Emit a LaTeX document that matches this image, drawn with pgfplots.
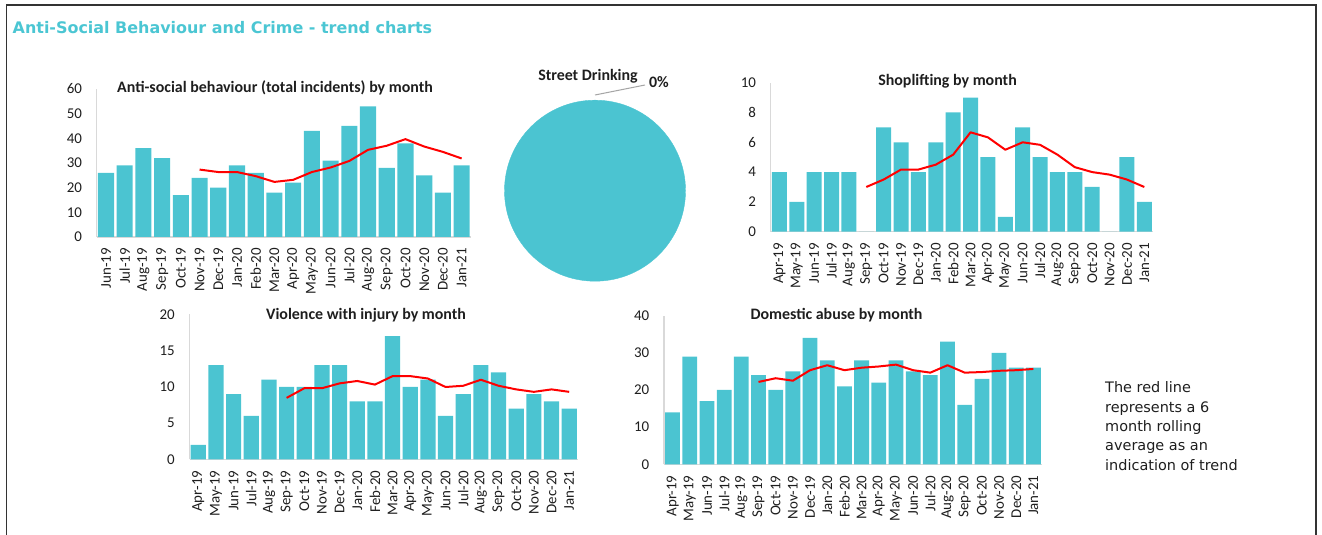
\documentclass[border=0pt]{standalone}
\usepackage{pgfplots}
\pgfplotsset{compat=1.18}
\usepackage{pgfplotstable}
\usepackage{fontspec}
\setmainfont{Carlito}
\newfontfamily\verdana{DejaVu Sans}
\definecolor{barteal}{RGB}{75,196,209}
\definecolor{titleteal}{RGB}{75,198,211}
\definecolor{axgray}{RGB}{217,217,217}
\definecolor{txt}{RGB}{30,30,30}

\pgfplotstableread{
x v avg
0 26 nan
1 29 nan
2 36 nan
3 32 nan
4 17 nan
5 24 27.33
6 20 26.33
7 29 26.33
8 26 24.67
9 18 22.33
10 22 23.17
11 43 26.33
12 31 28.17
13 45 30.83
14 53 35.33
15 28 37.00
16 38 39.67
17 25 36.67
18 18 34.50
19 29 31.83
}\asbdata

\pgfplotstableread{
x v avg
0 4 nan
1 2 nan
2 4 nan
3 4 nan
4 4 nan
5 0 3.00
6 7 3.50
7 6 4.17
8 4 4.17
9 6 4.50
10 8 5.17
11 9 6.67
12 5 6.33
13 1 5.50
14 7 6.00
15 5 5.83
16 4 5.17
17 4 4.33
18 3 4.00
19 0 3.83
20 5 3.50
21 2 3.00
}\shopdata

\pgfplotstableread{
x v avg
0 2 nan
1 13 nan
2 9 nan
3 6 nan
4 11 nan
5 10 8.50
6 10 9.83
7 13 9.83
8 13 10.50
9 8 10.83
10 8 10.33
11 17 11.50
12 10 11.50
13 11 11.17
14 6 10.00
15 9 10.17
16 13 11.00
17 12 10.17
18 7 9.67
19 9 9.33
20 8 9.67
21 7 9.33
}\viodata

\pgfplotstableread{
x v avg
0 14 nan
1 29 nan
2 17 nan
3 20 nan
4 29 nan
5 24 22.17
6 20 23.17
7 25 22.50
8 34 25.33
9 28 26.67
10 21 25.33
11 28 26.00
12 22 26.33
13 28 26.83
14 25 25.33
15 24 24.67
16 33 26.67
17 16 24.67
18 23 24.83
19 30 25.17
20 26 25.33
21 26 25.67
}\domdata

\pgfplotsset{
  trend/.style={
    scale only axis, anchor=south west,
    bar width=0.86,
    enlargelimits=false, ymin=0,
    axis x line*=bottom, axis y line*=left,
    axis line style={draw=axgray, line width=1.3bp},
    major tick length=0pt,
    /pgf/number format/assume math mode=true,
    ticklabel style={font=\fontsize{15}{16}\selectfont, text=txt},
    yticklabel style={anchor=east, inner sep=0pt},
    yticklabel shift=14.5bp,
    xticklabel style={rotate=90, anchor=east, inner sep=0pt},
    xticklabel shift=11bp,
    clip=false,
  },
  bars/.style={ybar, fill=barteal, draw=none},
  trendline/.style={sharp plot, draw=red, line width=2bp, mark=none, line join=round},
}

\begin{document}
\begin{tikzpicture}[x=1bp,y=1bp]
\path[use as bounding box] (0,0) rectangle (1322,535);
\draw[line width=1.6bp, black!80] (6.5,-5) -- (6.5,530) -- (1316,530) -- (1316,-5);
\node[anchor=base west, inner sep=0pt, font=\verdana\bfseries\fontsize{16}{18}\selectfont, text=titleteal] at (12.5,501.7) {Anti-Social Behaviour and Crime - trend charts};

% Chart 1: ASB
\begin{axis}[trend, at={(96.6bp,298bp)}, width=374.4bp, height=148bp,
  xmin=-0.5, xmax=19.5, ymax=60, ytick={0,10,...,60},
  xtick={0,...,19},
  xticklabels={Jun-19,Jul-19,Aug-19,Sep-19,Oct-19,Nov-19,Dec-19,Jan-20,Feb-20,Mar-20,Apr-20,May-20,Jun-20,Jul-20,Aug-20,Sep-20,Oct-20,Nov-20,Dec-20,Jan-21}]
\addplot[bars] table[x=x,y=v] {\asbdata};
\addplot[trendline] table[x=x,y=avg] {\asbdata};
\end{axis}
\node[font=\bfseries\fontsize{16}{18}\selectfont, text=txt] at (275,447) {Anti-social behaviour (total incidents) by month};

% Pie: Street Drinking
\begin{axis}[hide axis, scale only axis, anchor=center, at={(595bp,344.3bp)}, width=182bp, height=182bp,
  xmin=-1, xmax=1, ymin=-1, ymax=1, clip=false]
\addplot[only marks, mark=*, mark size=90.5bp, color=barteal, mark options={fill=barteal, draw=barteal}] coordinates {(0,0)};
\end{axis}
\draw[gray!70, line width=1bp] (595,440) -- (645,450);
\node[font=\bfseries\fontsize{16}{18}\selectfont, text=txt] at (588,458.3) {Street Drinking};
\node[font=\bfseries\fontsize{16}{18}\selectfont, text=txt] at (659,453) {0\%};

% Chart 3: Shoplifting
\begin{axis}[trend, at={(770.7bp,303.3bp)}, width=382.3bp, height=149bp,
  xmin=-0.5, xmax=21.5, ymax=10, ytick={0,2,...,10},
  xtick={0,...,21},
  xticklabels={Apr-19,May-19,Jun-19,Jul-19,Aug-19,Sep-19,Oct-19,Nov-19,Dec-19,Jan-20,Feb-20,Mar-20,Apr-20,May-20,Jun-20,Jul-20,Aug-20,Sep-20,Oct-20,Nov-20,Dec-20,Jan-21}]
\addplot[bars] table[x=x,y=v] {\shopdata};
\addplot[trendline] table[x=x,y=avg] {\shopdata};
\end{axis}
\node[font=\bfseries\fontsize{16}{18}\selectfont, text=txt] at (947.5,454) {Shoplifting by month};

% Chart 4: Violence with injury
\begin{axis}[trend, at={(189.5bp,75.5bp)}, width=388.5bp, height=145bp,
  xmin=-0.5, xmax=21.5, ymax=20, ytick={0,5,...,20},
  xtick={0,...,21},
  xticklabels={Apr-19,May-19,Jun-19,Jul-19,Aug-19,Sep-19,Oct-19,Nov-19,Dec-19,Jan-20,Feb-20,Mar-20,Apr-20,May-20,Jun-20,Jul-20,Aug-20,Sep-20,Oct-20,Nov-20,Dec-20,Jan-21}]
\addplot[bars] table[x=x,y=v] {\viodata};
\addplot[trendline] table[x=x,y=avg] {\viodata};
\end{axis}
\node[font=\bfseries\fontsize{16}{18}\selectfont, text=txt] at (366,220) {Violence with injury by month};

% Chart 5: Domestic abuse
\begin{axis}[trend, at={(664bp,70.7bp)}, width=378bp, height=148.6bp,
  xmin=-0.5, xmax=21.5, ymax=40, ytick={0,10,...,40},
  xtick={0,...,21},
  xticklabels={Apr-19,May-19,Jun-19,Jul-19,Aug-19,Sep-19,Oct-19,Nov-19,Dec-19,Jan-20,Feb-20,Mar-20,Apr-20,May-20,Jun-20,Jul-20,Aug-20,Sep-20,Oct-20,Nov-20,Dec-20,Jan-21}]
\addplot[bars] table[x=x,y=v] {\domdata};
\addplot[trendline] table[x=x,y=avg] {\domdata};
\end{axis}
\node[font=\bfseries\fontsize{16}{18}\selectfont, text=txt] at (836.5,220) {Domestic abuse by month};

% Note
\node[anchor=north west, inner sep=0pt, align=left, font=\verdana\fontsize{14.5}{19.5}\selectfont, text=txt] at (1105,153.5)
  {The red line\\represents a 6\\month rolling\\average as an\\indication of trend};
\end{tikzpicture}
\end{document}
